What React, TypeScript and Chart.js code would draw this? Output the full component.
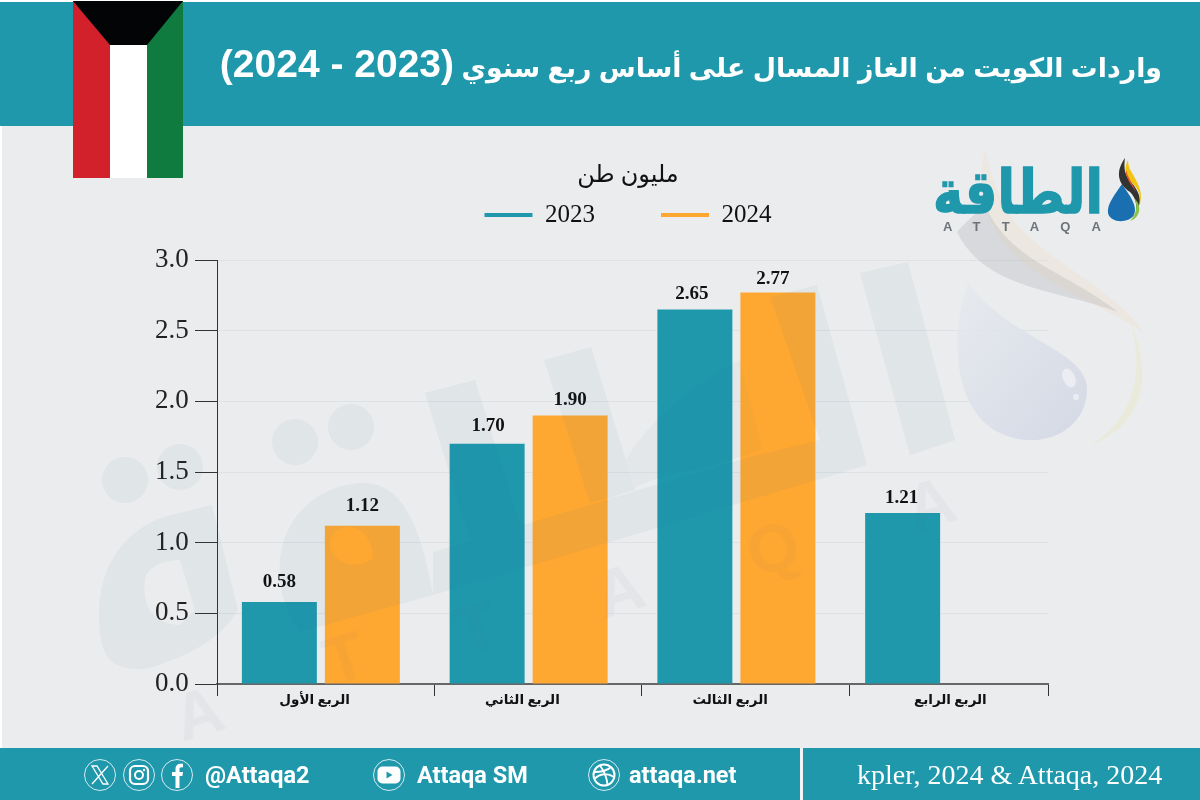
import React, { useEffect, useRef } from "react";
import { Chart, registerables } from "chart.js";

Chart.register(...registerables);

const TEAL = "#1f98ac";
const ORANGE = "#fea832";
const SERIF = "'Liberation Serif','DejaVu Sans'";

const categories = ["الربع الأول", "الربع الثاني", "الربع الثالث", "الربع الرابع"];
const series2023 = [0.58, 1.7, 2.65, 1.21];
const series2024: (number | null)[] = [1.12, 1.9, 2.77, null];
const seriesNames = ["2023", "2024"];
const unitLabel = "مليون طن";
const headerWords = "واردات الكويت من الغاز المسال على أساس ربع سنوي ";
const headerYears = "(2023 - 2024)";
const sourceText = "kpler, 2024 & Attaqa, 2024";
const yTicks = [0, 0.5, 1, 1.5, 2, 2.5, 3];
const xTickMarks = [0, 1.045, 2.045, 3.045, 4];
const xLabelAnchors = [0.47, 1.47, 2.47, 3.53];

// How far each value label sits from its bar's top centre, per series.
const labelNudge = [
  [{ dx: 0, lift: 15 }, { dx: 1, lift: 13 }, { dx: -3, lift: 10 }, { dx: -1, lift: 10 }],
  [{ dx: 0, lift: 15 }, { dx: 0, lift: 10 }, { dx: -5, lift: 9 }, { dx: 0, lift: 10 }],
];

const valueLabels = {
  id: "valueLabels",
  afterDatasetsDraw(chart: any) {
    const { ctx } = chart;
    ctx.save();
    ctx.font = `bold 19px ${SERIF}`;
    ctx.fillStyle = "#111";
    ctx.textAlign = "center";
    ctx.textBaseline = "alphabetic";
    chart.data.datasets.forEach((ds: any, i: number) => {
      chart.getDatasetMeta(i).data.forEach((el: any, j: number) => {
        const v = ds.data[j];
        if (v == null) return;
        const n = labelNudge[i][j];
        ctx.fillText(v.toFixed(2), el.x + n.dx, el.y - n.lift);
      });
    });
    ctx.restore();
  },
};

function Watermark() {
  const f = "#1f648c";
  return (
    <svg width="1200" height="800" style={{ position: "absolute", left: 0, top: 0, pointerEvents: "none" }}>
      <defs>
        <linearGradient id="drop" x1="0" y1="0" x2="1" y2="1">
          <stop offset="0" stopColor="#e6eaee" />
          <stop offset="1" stopColor="#cfd4e2" />
        </linearGradient>
      </defs>
      <path d="M985 150C975 190 985 240 1040 275C1090 305 1130 320 1145 335C1120 290 1040 260 1010 215C995 190 990 170 985 150Z" fill="#f3d9a8" opacity="0.18" />
      <path d="M957 232C985 290 1060 290 1118 312C1065 270 1010 262 985 205C975 215 965 222 957 232Z" fill="#8a8f96" opacity="0.2" />
      <path d="M1090 445C1135 420 1145 370 1130 320C1120 300 1145 345 1142 380C1140 410 1120 435 1090 445Z" fill="#e8e6b0" opacity="0.3" />
      <path d="M968 283C948 340 955 412 1000 433C1040 452 1086 432 1087 390C1088 350 1010 340 968 283Z" fill="url(#drop)" opacity="0.8" />
      <ellipse cx="1069" cy="378" rx="6" ry="10" transform="rotate(-25 1069 378)" fill="#f2f3f6" opacity="0.7" />
      <circle cx="1076" cy="397" r="3" fill="#f2f3f6" opacity="0.7" />
      <g fill={f} opacity="0.05">
        <circle cx="125" cy="480" r="23" />
        <circle cx="180" cy="467" r="23" />
        <circle cx="295" cy="442" r="23" />
        <circle cx="351" cy="427" r="23" />
        <path fillRule="evenodd" d="M101 640C90 570 125 530 164 517L212 505L238 610C220 640 190 655 150 668C125 672 105 665 101 640ZM146 575C140 600 150 625 180 625L195 610L180 560C165 560 152 565 146 575Z" />
        <path fillRule="evenodd" d="M280 560C285 510 325 483 366 483C400 485 420 520 433 595L300 632C285 610 278 590 280 560ZM330 545C332 565 360 570 373 558C373 540 362 525 345 527C335 530 330 535 330 545Z" />
        <path d="M433 552L746 458L820 440L867 465L433 595Z" />
        <path d="M425 393L475 380L520 525L470 540Z" />
        <path d="M544 360L591 347L635 490L590 503Z" />
        <path d="M770 297L817 285L867 465L820 440Z" />
        <path d="M860 273L908 262L955 440L910 455Z" />
        <path d="M608 500C625 440 680 390 740 360L762 450L700 470C670 470 640 485 608 500Z" opacity="0.5" />
      </g>
      <g fill="#5c6a76" opacity="0.045" fontFamily="'Liberation Sans'" fontWeight="bold" fontSize="66" textAnchor="middle">
        <text x="205" y="735" transform="rotate(-17 205 735)">A</text>
        <text x="351" y="680" transform="rotate(-17 351 680)">T</text>
        <text x="483" y="650" transform="rotate(-17 483 650)">T</text>
        <text x="626" y="612" transform="rotate(-17 626 612)">A</text>
        <text x="780" y="570" transform="rotate(-17 780 570)">Q</text>
        <text x="937" y="526" transform="rotate(-17 937 526)">A</text>
      </g>
    </svg>
  );
}

function Logo() {
  return (
    <svg width="1200" height="800" style={{ position: "absolute", left: 0, top: 0, pointerEvents: "none" }}>
      <text x="1103" y="213" fill={TEAL} stroke={TEAL} strokeWidth="1.5" fontFamily="'DejaVu Sans'" fontWeight="bold" fontSize="60" textAnchor="start" direction="rtl" textLength="170" lengthAdjust="spacingAndGlyphs">الطاقة</text>
      <text x="943" y="231" fill="#6d7378" fontFamily="'Liberation Sans'" fontWeight="bold" fontSize="13" textLength="158">ATTAQA</text>
      <path d="M1122 184C1114 196 1107 204 1108 213C1110 223 1128 224 1134 215C1138 206 1130 196 1122 184Z" fill="#1a6fb0" />
      <path d="M1125 158C1115 172 1118 184 1130 192C1136 198 1137 205 1136 212C1145 198 1136 188 1128 178C1124 172 1124 165 1125 158Z" fill="#333" />
      <path d="M1128 160C1122 172 1128 178 1135 186C1140 192 1141 200 1140 205C1144 192 1136 180 1132 173C1129 168 1128 164 1128 160Z" fill="#f1c40f" />
      <path d="M1126 170C1125 178 1131 184 1136 192C1133 184 1128 178 1126 170Z" fill="#e2552b" />
      <path d="M1134 198C1138 204 1137 214 1130 221C1140 218 1143 206 1134 198Z" fill="#8bc34a" />
    </svg>
  );
}

function FooterIcons() {
  const s = { fill: "none", stroke: "#fff" };
  return (
    <svg width="1200" height="52" style={{ position: "absolute", left: 0, top: 748 }}>
      <g transform="translate(100 27)">
        <circle r="15.5" {...s} strokeWidth="0.8" />
        <path d="M-8 -9L-3 -9L8 9L3 9ZM8 -9L-8 9" {...s} strokeWidth="1.3" />
      </g>
      <g transform="translate(139 27)">
        <circle r="15.5" {...s} strokeWidth="0.8" />
        <rect x="-9" y="-9" width="18" height="18" rx="5" {...s} strokeWidth="2.2" />
        <circle r="4" {...s} strokeWidth="2" />
        <circle cx="5" cy="-5" r="1.2" fill="#fff" />
      </g>
      <g transform="translate(177 27)">
        <circle r="15.5" {...s} strokeWidth="0.8" />
        <path d="M-1.5 13L-1.5 1L-5 1L-5 -3L-1.5 -3L-1.5 -6C-1.5 -10 1 -12 6 -11.2L6 -7.6C3 -8 2.5 -7.2 2.5 -5.5L2.5 -3L6 -3L5.4 1L2.5 1L2.5 13Z" fill="#fff" />
      </g>
      <g transform="translate(389 27)">
        <circle r="15.5" {...s} strokeWidth="0.8" />
        <rect x="-11.5" y="-8.5" width="23" height="17" rx="5" fill="#fff" />
        <path d="M-2.5 -3.5L3.5 0L-2.5 3.5Z" fill={TEAL} />
      </g>
      <g transform="translate(604 27)">
        <circle r="15.5" {...s} strokeWidth="0.8" />
        <circle r="10.5" {...s} strokeWidth="2" />
        <path d="M-10 -3C-3 -3 4 -5 7 -8M-9.5 4C-4 -2 4 -2 10 2M-4 -9.5C0 -4 3 3 3.5 10" {...s} strokeWidth="1.8" />
      </g>
    </svg>
  );
}

const footStyle: React.CSSProperties = {
  position: "absolute",
  top: 748,
  height: 52,
  lineHeight: "54px",
  color: "#fff",
  whiteSpace: "nowrap",
  fontFamily: "Roboto",
  fontWeight: 700,
  fontSize: 23.5,
};

export default function App() {
  const ref = useRef<HTMLCanvasElement>(null);

  useEffect(() => {
    document.body.style.margin = "0";
    const chart = new Chart(ref.current as HTMLCanvasElement, {
      type: "bar",
      data: {
        labels: categories,
        datasets: [
          { label: seriesNames[0], data: series2023, backgroundColor: TEAL, borderWidth: 0, categoryPercentage: 0.799, barPercentage: 0.9036 },
          { label: seriesNames[1], data: series2024, backgroundColor: ORANGE, borderWidth: 0, categoryPercentage: 0.799, barPercentage: 0.9036 },
        ],
      },
      options: {
        responsive: false,
        animation: false,
        layout: { padding: { top: 136.5, left: 208, right: 152, bottom: 86 } },
        plugins: {
          tooltip: { enabled: false },
          title: {
            display: true,
            text: unitLabel,
            weight: 500,
            color: "#111",
            font: { family: SERIF, size: 24, weight: "normal" },
            padding: { top: -75.9, bottom: 69.6 },
          },
          legend: {
            position: "top",
            weight: 1000,
            labels: {
              boxWidth: 48,
              boxHeight: 4,
              padding: 66,
              color: "#111",
              font: { family: SERIF, size: 25 },
            },
          },
        },
        scales: {
          x: { type: "category", display: false, offset: true, grid: { display: false } },
          xLabels: {
            type: "linear",
            axis: "x",
            position: "bottom",
            offset: false,
            min: 0,
            max: 4,
            afterBuildTicks: (s: any) => { s.ticks = xLabelAnchors.map((value) => ({ value })); },
            afterFit: (s: any) => { s.height = 30; },
            border: { display: false },
            grid: { display: false, drawTicks: false, offset: false },
            ticks: {
              autoSkip: false,
              maxRotation: 0,
              padding: 8,
              color: "#111",
              font: { family: SERIF, size: 13.5, weight: "bold" },
              callback: (_v: any, i: number) => categories[i],
            },
          },
          xTicks: {
            type: "linear",
            axis: "x",
            position: { y: 0 },
            offset: false,
            min: 0,
            max: 4,
            afterBuildTicks: (s: any) => { s.ticks = xTickMarks.map((value) => ({ value })); },
            border: { display: true, color: "#666", width: 2 },
            grid: { offset: false, drawOnChartArea: false, drawTicks: true, tickLength: 11, tickColor: "#333", tickWidth: 1 },
            ticks: { display: false },
          },
          y: {
            min: 0,
            max: 3,
            afterBuildTicks: (s: any) => { s.ticks = yTicks.map((value) => ({ value })); },
            afterFit: (s: any) => { s.width = 9; },
            border: { display: true, color: "#333", width: 1 },
            grid: { color: "#dfe2e5", lineWidth: 1, tickColor: "#333", tickLength: 22, tickWidth: 1 },
            ticks: {
              mirror: true,
              padding: -62,
              color: "#222",
              font: { family: SERIF, size: 27 },
              callback: (v: any) => Number(v).toFixed(1),
            },
          },
        },
      } as any,
      plugins: [valueLabels],
    });
    return () => chart.destroy();
  }, []);

  return (
    <div style={{ position: "absolute", left: 0, top: 0, width: 1200, height: 800, overflow: "hidden", background: "#fff" }}>
      <div style={{ position: "absolute", left: 2, top: 126, width: 1198, height: 622, background: "#ebecee" }} />
      <canvas ref={ref} width={1200} height={800} style={{ position: "absolute", left: 0, top: 0, display: "block" }} />
      <Watermark />
      <Logo />
      <div style={{ position: "absolute", left: 0, top: 2, width: 1200, height: 124, background: TEAL }} />
      <div
        dir="rtl"
        style={{ position: "absolute", right: 38, top: 39, lineHeight: "50px", color: "#fff", fontFamily: "'Liberation Sans','DejaVu Sans'", fontWeight: 700, fontSize: 26.8, whiteSpace: "nowrap" }}
      >
        {headerWords}
        <span style={{ fontSize: 39 }}>{headerYears}</span>
      </div>
      <svg width="110" height="178" style={{ position: "absolute", left: 73, top: 0 }}>
        <rect x="0" y="1" width="37" height="177" fill="#d2212b" />
        <rect x="37" y="1" width="37" height="177" fill="#fff" />
        <rect x="74" y="1" width="36" height="177" fill="#0f7b3f" />
        <path d="M0 1L110 1L74 45L37 45Z" fill="#030405" />
      </svg>
      <div style={{ position: "absolute", left: 0, top: 748, width: 1200, height: 52, background: TEAL }} />
      <div style={{ position: "absolute", left: 800, top: 748, width: 3, height: 52, background: "#f2f3f4" }} />
      <FooterIcons />
      <div style={{ ...footStyle, left: 205 }}>@Attaqa2</div>
      <div style={{ ...footStyle, left: 417 }}>Attaqa SM</div>
      <div style={{ ...footStyle, left: 629 }}>attaqa.net</div>
      <div style={{ ...footStyle, left: 857, fontFamily: "'Liberation Serif'", fontWeight: 400, fontSize: 28 }}>{sourceText}</div>
    </div>
  );
}
